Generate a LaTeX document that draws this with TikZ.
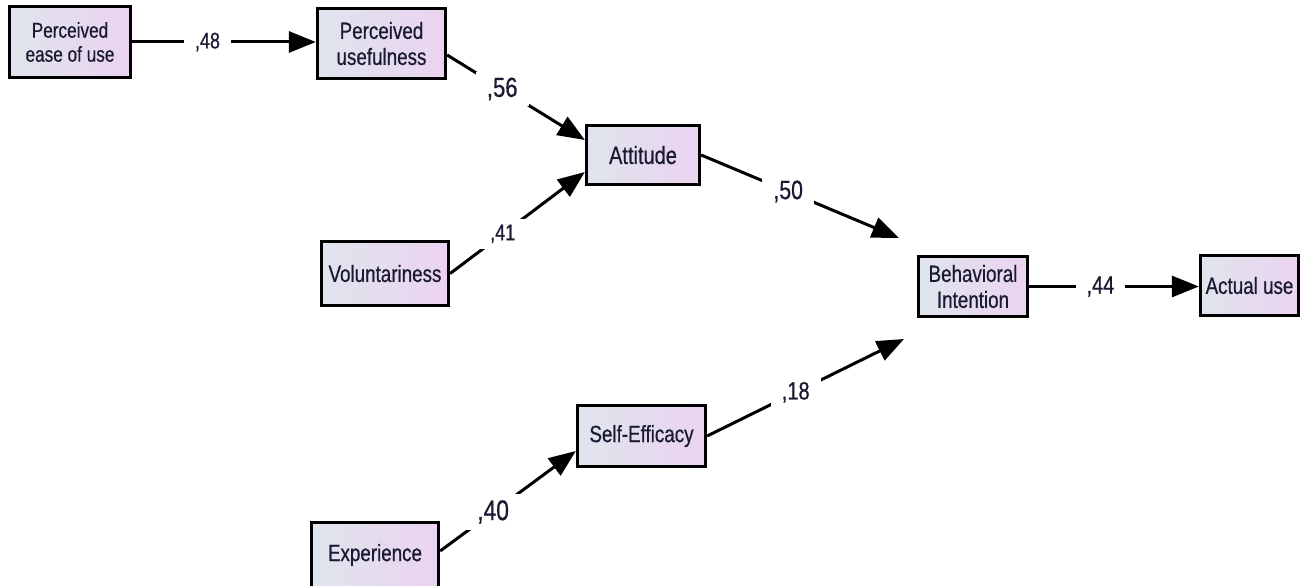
\documentclass[tikz,border=0pt]{standalone}
\usepackage{fontspec}
\setmainfont[FakeStretch=0.8,FakeBold=0.6]{Liberation Sans}
\usetikzlibrary{arrows.meta}
\definecolor{boxL}{HTML}{DFE5EC}
\definecolor{boxR}{HTML}{EBD3F0}
\definecolor{txt}{HTML}{1A1A33}
\begin{document}
\begin{tikzpicture}[x=1pt,y=-1pt,
 var/.style={draw=black, line width=3.3pt, left color=boxL, right color=boxR, text=txt, align=center, inner sep=0pt},
 conn/.style={line width=3pt, -{Triangle[length=27pt,width=21pt]}},
 coef/.style={fill=white, text=txt, inner xsep=11pt, inner ysep=6pt}]
\clip (0,0) rectangle (1306,586);
\fill[white] (0,0) rectangle (1306,586);
\node[var, minimum width=121pt, minimum height=71pt, font=\fontsize{21.5}{24}\selectfont] (peou) at (70,42) {Perceived\\ease of use};
\node[var, minimum width=128pt, minimum height=70pt, font=\fontsize{23.5}{26}\selectfont] (pu) at (381.5,43.5) {Perceived\\usefulness};
\node[var, minimum width=113pt, minimum height=59pt, font=\fontsize{25}{28}\selectfont] (att) at (643,155) {Attitude};
\node[var, minimum width=127pt, minimum height=64pt, font=\fontsize{23.5}{26}\selectfont] (vol) at (385,273.5) {Voluntariness};
\node[var, minimum width=109pt, minimum height=60pt, font=\fontsize{23.5}{26}\selectfont] (bi) at (973,286.5) {Behavioral\\Intention};
\node[var, minimum width=98pt, minimum height=60pt, font=\fontsize{23.5}{26}\selectfont] (au) at (1249.5,285.5) {Actual use};
\node[var, minimum width=128pt, minimum height=61pt, font=\fontsize{23.5}{26}\selectfont] (se) at (641.5,436) {Self-Efficacy};
\node[var, minimum width=127pt, minimum height=65pt, font=\fontsize{23.5}{26}\selectfont] (exp) at (375,555) {Experience};
\coordinate (biA) at (899,238);
\coordinate (biB) at (904,339);
\draw[conn] (peou.east) -- node[coef, pos=0.41, font=\fontsize{22.5}{25}\selectfont]{,48} (peou.east -| pu.west);
\draw[conn] ([yshift=-11.5pt]pu.east) -- node[coef, pos=0.4, font=\fontsize{27.5}{30}\selectfont]{,56} ([yshift=15pt]att.west);
\draw[conn] (vol.east) -- node[coef, pos=0.39, font=\fontsize{22.5}{25}\selectfont]{,41} ([yshift=-17pt]att.west);
\draw[conn] (att.east) -- node[coef, pos=0.44, font=\fontsize{26.5}{29}\selectfont]{,50} (biA);
\draw[conn] (bi.east) -- node[coef, pos=0.42, font=\fontsize{25}{28}\selectfont]{,44} (bi.east -| au.west);
\draw[conn] (se.east) -- node[coef, pos=0.45, font=\fontsize{25}{28}\selectfont]{,18} (biB);
\draw[conn] ([yshift=4pt]exp.east) -- node[coef, pos=0.39, font=\fontsize{28.5}{31}\selectfont]{,40} ([yshift=-15pt]se.west);
\end{tikzpicture}
\end{document}
